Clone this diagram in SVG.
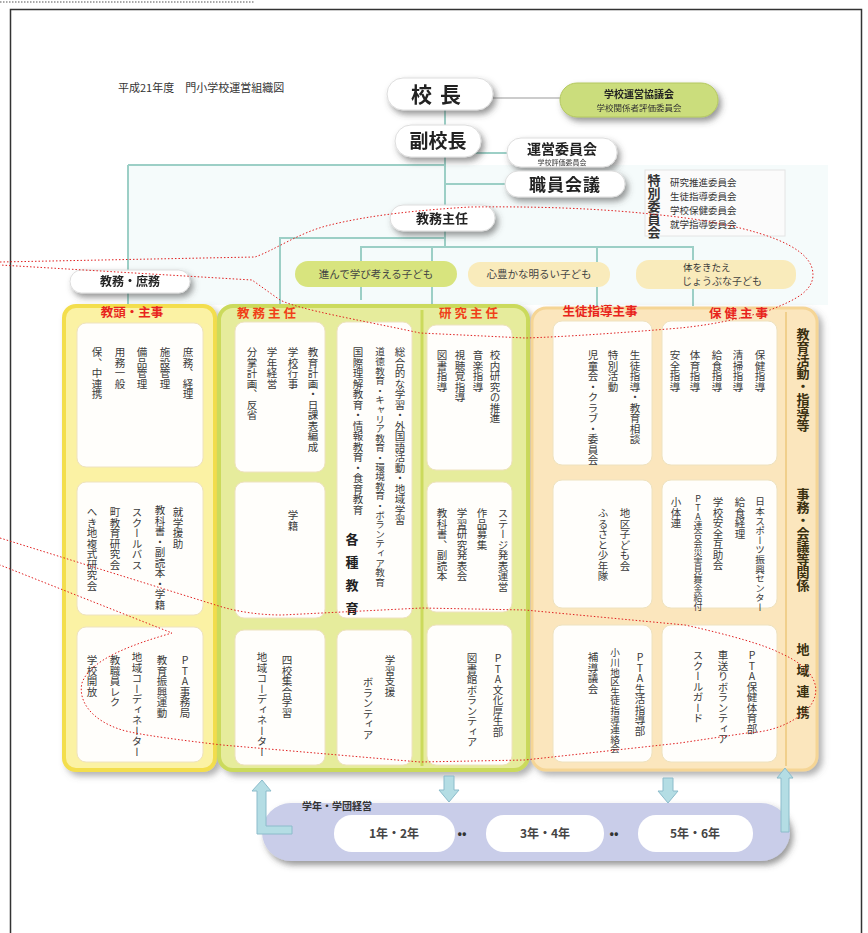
<svg xmlns="http://www.w3.org/2000/svg" width="868" height="933" viewBox="0 0 868 933">
<defs>
<filter id="sh" x="-20%" y="-30%" width="150%" height="180%"><feDropShadow dx="3" dy="4" stdDeviation="3" flood-color="#444" flood-opacity="0.55"/></filter>
<filter id="sh2" x="-10%" y="-5%" width="120%" height="110%"><feDropShadow dx="4" dy="4" stdDeviation="3" flood-color="#666" flood-opacity="0.5"/></filter>
<style>
text{font-family:"Noto Sans CJK JP","Noto Sans",sans-serif;fill:#333}
.v{writing-mode:vertical-rl;text-orientation:upright;font-size:10.5px;fill:#3a3a3a}
.pill{fill:#fff;stroke:#ddd;stroke-width:1}
.pt{font-weight:bold;text-anchor:middle;fill:#222}
.box{fill:#fffefb;stroke:#eee2c0;stroke-width:1}
.hd{font-weight:bold;fill:#e8241c;font-size:12.5px;text-anchor:middle}
.rl{writing-mode:vertical-rl;text-orientation:upright;font-weight:bold;font-size:13px;fill:#3a3010}
.ln{stroke:#9ccfc6;stroke-width:2;fill:none}
.red{stroke:#e02020;stroke-width:1;stroke-dasharray:1.5 2;fill:none}
.goal{font-size:10.5px;text-anchor:middle;fill:#444}
.arr{fill:#b4dde4;stroke:#8cbccb;stroke-width:1}
.yr{font-size:12px;font-weight:bold;text-anchor:middle;fill:#444}
</style>
</defs>
<rect width="868" height="933" fill="#fff"/>
<line x1="0" y1="2" x2="255" y2="2" stroke="#555" stroke-width="1.2" stroke-dasharray="1.5 1.5"/>
<rect x="10.5" y="9.5" width="851" height="940" fill="#fff" stroke="#333" stroke-width="1.5"/>
<rect x="128" y="165" width="700" height="140" fill="#f5fbfb"/>
<text x="118" y="92" font-size="11" fill="#444">平成21年度　門小学校運営組織図</text>

<g id="connectors">
<line class="ln" x1="445" y1="108" x2="445" y2="247"/>
<line class="ln" x1="490" y1="98" x2="562" y2="98" style="stroke:#ccc"/>
<line class="ln" x1="128" y1="165" x2="445" y2="165"/>
<line class="ln" x1="128" y1="165" x2="128" y2="306"/>
<line class="ln" x1="445" y1="153" x2="508" y2="153"/>
<line class="ln" x1="445" y1="184" x2="508" y2="184"/>
<polyline class="ln" points="280,306 280,238 445,238"/>
<polyline class="ln" points="361,300 361,247 693,247 693,306"/>
<line class="ln" x1="432" y1="247" x2="432" y2="306"/>
<line class="ln" x1="597" y1="247" x2="597" y2="306"/>
</g>

<g id="n-kocho" filter="url(#sh)"><rect class="pill" x="387" y="78" width="106" height="32" rx="16"/><text class="pt" x="440" y="102" font-size="21" letter-spacing="8">校長</text></g>
<g id="n-kyogikai" filter="url(#sh)"><rect x="560" y="83" width="158" height="34" rx="17" fill="#cbdd7c" stroke="#b4c860"/><text class="pt" x="639" y="98" font-size="10">学校運営協議会</text><text x="639" y="111" font-size="8.5" text-anchor="middle" fill="#555">学校関係者評価委員会</text></g>
<g id="n-fukukocho" filter="url(#sh)"><rect class="pill" x="395" y="125" width="86" height="32" rx="16"/><text class="pt" x="438" y="148" font-size="19">副校長</text></g>
<g id="n-uneii" filter="url(#sh)"><rect class="pill" x="507" y="138" width="110" height="29" rx="14"/><text class="pt" x="562" y="154" font-size="14">運営委員会</text><text x="562" y="164.5" font-size="7" text-anchor="middle" fill="#666">学校評価委員会</text></g>
<g id="n-shokuin" filter="url(#sh)"><rect class="pill" x="505" y="171" width="120" height="26" rx="13"/><text class="pt" x="565" y="191" font-size="17" letter-spacing="1">職員会議</text></g>
<g id="n-tokubetsu"><rect x="645" y="170" width="140" height="66" fill="#fbfbfb" stroke="#e4e4e4"/><text class="rl" x="654" y="174" font-size="11" style="fill:#333">特別委員会</text><text x="670" y="186" font-size="9.5" fill="#555">研究推進委員会</text><text x="670" y="200" font-size="9.5" fill="#555">生徒指導委員会</text><text x="670" y="214" font-size="9.5" fill="#555">学校保健委員会</text><text x="670" y="228" font-size="9.5" fill="#555">就学指導委員会</text></g>
<g id="n-kyomu" filter="url(#sh)"><rect class="pill" x="390" y="205" width="105" height="26" rx="13"/><text class="pt" x="442" y="223" font-size="13">教務主任</text></g>
<g id="n-shomu" filter="url(#sh)"><rect class="pill" x="70" y="270" width="120" height="23" rx="11.5"/><text class="pt" x="130" y="286" font-size="12">教務・庶務</text></g>

<g id="goals">
<rect x="295" y="261" width="162" height="26" rx="13" fill="#d8e47e"/><text class="goal" x="376" y="278">進んで学び考える子ども</text>
<rect x="468" y="262" width="142" height="25" rx="12" fill="#f9ebbb"/><text class="goal" x="539" y="278">心豊かな明るい子ども</text>
<rect x="636" y="260" width="160" height="29" rx="13" fill="#f9ebbb"/><text x="683" y="270.5" font-size="9.5" fill="#444">体をきたえ</text><text class="goal" x="722" y="285" font-size="10" style="font-size:10px">じょうぶな子ども</text>
</g>

<g id="col1" filter="url(#sh2)">
<rect x="64" y="306" width="151" height="464" rx="12" fill="#fbf2a4" stroke="#f3de4e" stroke-width="4"/>
</g>
<g id="col23" filter="url(#sh2)">
<rect x="219" y="306" width="309" height="464" rx="14" fill="#e6ec9c" stroke="#cbda5c" stroke-width="4"/>
<line x1="422" y1="310" x2="422" y2="766" stroke="#cbda5c" stroke-width="3"/>
</g>
<g id="col45" filter="url(#sh2)">
<rect x="532" y="308" width="285" height="462" rx="14" fill="#fbe6bd" stroke="#f5d595" stroke-width="3"/>
<line x1="786" y1="312" x2="786" y2="766" stroke="#f0cf8c" stroke-width="2"/>
</g>

<text class="hd" x="132" y="317">教頭・主事</text>
<text class="hd" x="268" y="318" letter-spacing="3" style="fill:#f04018">教務主任</text>
<text class="hd" x="470" y="318" letter-spacing="3" style="fill:#f04018">研究主任</text>
<text class="hd" x="600" y="316" font-size="10.5">生徒指導主事</text>
<text class="hd" x="740" y="318" letter-spacing="3">保健主事</text>

<g id="c1b1"><rect class="box" x="77" y="323" width="126" height="144" rx="9"/>
<text class="v" x="188" y="347">庶務、経理</text><text class="v" x="165" y="347">施設管理</text><text class="v" x="142" y="347">備品管理</text><text class="v" x="120" y="347">用務一般</text><text class="v" x="97" y="347">保、中連携</text></g>
<g id="c1b2"><rect class="box" x="77" y="482" width="126" height="133" rx="9"/>
<text class="v" x="178" y="507">就学援助</text><text class="v" x="160" y="505">教科書・副読本・学籍</text><text class="v" x="137" y="507">スクールバス</text><text class="v" x="115" y="507">町教育研究会</text><text class="v" x="92" y="507">へき地複式研究会</text></g>
<g id="c1b3"><rect class="box" x="77" y="627" width="126" height="135" rx="9"/>
<text class="v" x="185" y="655">PTA事務局</text><text class="v" x="162" y="655">教育振興運動</text><text class="v" x="137" y="652">地域コーディネーター</text><text class="v" x="115" y="655">教職員レク</text><text class="v" x="92" y="655">学校開放</text></g>

<g id="c2b1"><rect class="box" x="235" y="322" width="90" height="150" rx="9"/>
<text class="v" x="313" y="347">教育計画・日課表編成</text><text class="v" x="293" y="347">学校行事</text><text class="v" x="272" y="347">学年経営</text><text class="v" x="252" y="347">分掌計画、反省</text></g>
<g id="c2b2"><rect class="box" x="235" y="482" width="90" height="136" rx="9"/><text class="v" x="293" y="510">学籍</text></g>
<g id="c2b3"><rect class="box" x="235" y="630" width="90" height="135" rx="9"/>
<text class="v" x="287" y="655">四校集合学習</text><text class="v" x="262" y="652">地域コーディネーター</text></g>
<g id="c2r1"><rect class="box" x="337" y="322" width="75" height="296" rx="9"/>
<text class="v" x="400" y="347">総合的な学習・外国語活動・地域学習</text><text class="v" x="380" y="347" style="font-size:9.6px">道徳教育・キャリア教育・環境教育・ボランティア教育</text><text class="v" x="358" y="347">国際理解教育・情報教育・食育教育</text>
<text class="rl" x="352" y="533" font-size="12" letter-spacing="10" style="fill:#222">各種教育</text></g>
<g id="c2r3"><rect class="box" x="337" y="630" width="75" height="135" rx="9"/>
<text class="v" x="390" y="655">学習支援</text><text class="v" x="368" y="677">ボランティア</text></g>

<g id="c3b1"><rect class="box" x="427" y="325" width="85" height="145" rx="9"/>
<text class="v" x="495" y="350">校内研究の推進</text><text class="v" x="478" y="350">音楽指導</text><text class="v" x="460" y="350">視聴覚指導</text><text class="v" x="442" y="350">図書指導</text></g>
<g id="c3b2"><rect class="box" x="427" y="482" width="85" height="130" rx="9"/>
<text class="v" x="503" y="508">ステージ発表運営</text><text class="v" x="482" y="508">作品募集</text><text class="v" x="462" y="508">学習研究発表会</text><text class="v" x="442" y="508">教科書、副読本</text></g>
<g id="c3b3"><rect class="box" x="427" y="625" width="85" height="140" rx="9"/>
<text class="v" x="498" y="653">PTA文化厚生部</text><text class="v" x="472" y="653">図書館ボランティア</text></g>

<g id="c4b1"><rect class="box" x="553" y="321" width="99" height="144" rx="9"/>
<text class="v" x="635" y="350">生徒指導・教育相談</text><text class="v" x="613" y="350">特別活動</text><text class="v" x="593" y="350">児童会・クラブ・委員会</text></g>
<g id="c4b2"><rect class="box" x="553" y="480" width="99" height="128" rx="9"/>
<text class="v" x="625" y="508">地区子ども会</text><text class="v" x="603" y="508">ふるさと少年隊</text></g>
<g id="c4b3"><rect class="box" x="553" y="625" width="99" height="137" rx="9"/>
<text class="v" x="640" y="652">PTA生活指導部</text><text class="v" x="615" y="648" style="font-size:9.6px">小川地区生徒指導連絡会</text><text class="v" x="593" y="652">補導議会</text></g>

<g id="c5b1"><rect class="box" x="662" y="321" width="115" height="144" rx="9"/>
<text class="v" x="760" y="350">保健指導</text><text class="v" x="738" y="350">清掃指導</text><text class="v" x="717" y="350">給食指導</text><text class="v" x="695" y="350">体育指導</text><text class="v" x="675" y="350">安全指導</text></g>
<g id="c5b2"><rect class="box" x="662" y="480" width="115" height="128" rx="9"/>
<text class="v" x="760" y="497" style="font-size:9.6px">日本スポーツ振興センター</text><text class="v" x="740" y="497">給食経理</text><text class="v" x="718" y="497">学校安全互助会</text><text class="v" x="698" y="494" style="font-size:9px">PTA連合会災害見舞金給付</text><text class="v" x="676" y="497">小体連</text></g>
<g id="c5b3"><rect class="box" x="662" y="625" width="115" height="137" rx="9"/>
<text class="v" x="752" y="650">PTA保健体育部</text><text class="v" x="723" y="650">車送りボランティア</text><text class="v" x="698" y="650">スクールガード</text></g>

<text class="rl" x="803" y="328">教育活動・指導等</text>
<text class="rl" x="803" y="488">事務・会議等関係</text>
<text class="rl" x="803" y="643" letter-spacing="8">地域連携</text>

<g id="grades">
<rect x="262" y="803" width="528" height="58" rx="29" fill="#c9cde9" filter="url(#sh)"/>
<text x="302" y="810" font-size="10" font-weight="bold" fill="#333">学年・学団経営</text>
<rect x="334" y="815" width="121" height="37" rx="18" fill="#fff"/><text class="yr" x="394" y="838">1年・2年</text>
<rect x="486" y="815" width="118" height="37" rx="18" fill="#fff"/><text class="yr" x="545" y="838">3年・4年</text>
<rect x="638" y="815" width="115" height="37" rx="18" fill="#fff"/><text class="yr" x="695" y="838">5年・6年</text>
<text x="462" y="838" font-size="12" font-weight="bold" text-anchor="middle" fill="#333">••</text>
<text x="614" y="838" font-size="12" font-weight="bold" text-anchor="middle" fill="#333">••</text>
</g>
<g id="arrows">
<path class="arr" d="M262,780 L271,791 L266,791 L266,826 L292,826 L292,834 L257,834 L257,791 L252,791 Z"/>
<path class="arr" d="M444,776 L454,776 L454,790 L459,790 L449,802 L439,790 L444,790 Z"/>
<path class="arr" d="M663,778 L673,778 L673,791 L678,791 L668,803 L658,791 L663,791 Z"/>
<path class="arr" d="M785,768 L793,778 L789,778 L789,832 L781,832 L781,778 L777,778 Z"/>
</g>

<g id="annotations">
<path class="red" d="M0,262 L255,257 C275,250 300,232 330,225 C370,215 420,210 470,207 C560,206 630,210 700,220 C760,230 805,245 812,268 C818,290 795,300 770,310 C730,322 700,326 680,328 C620,333 560,337 525,338 L420,333 C360,320 300,310 280,300 L252,280 L0,265"/>
<path class="red" d="M0,538 L222,607 C240,612 260,615 282,615 L422,608 L525,610 L685,625 C730,635 765,645 780,653 C815,668 825,690 807,710 C790,725 770,732 747,733 L680,743 L525,760 L420,762 L222,745 C180,740 140,735 122,730 C90,720 78,700 82,683 C90,660 130,645 172,633 L0,565"/>
</g>
</svg>
